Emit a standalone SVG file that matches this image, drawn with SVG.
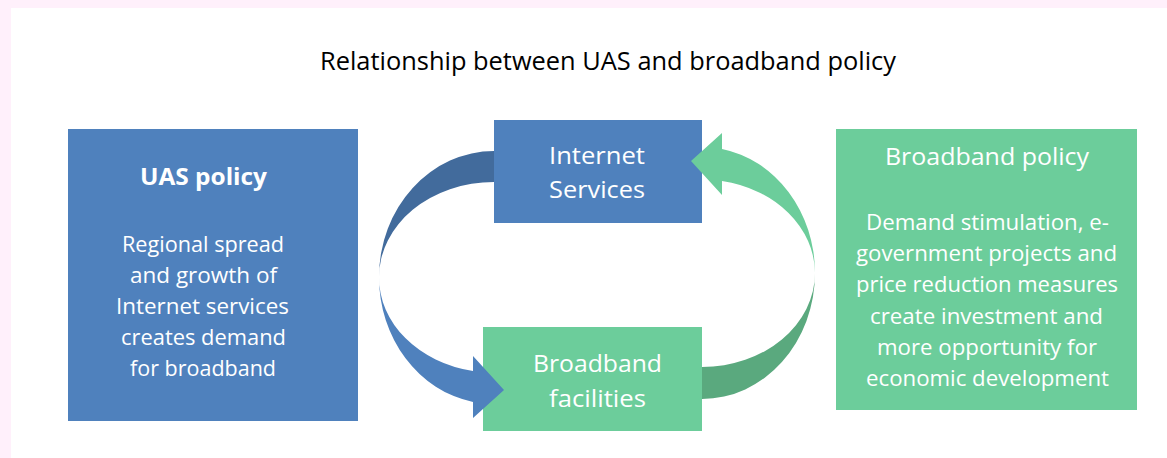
<svg xmlns="http://www.w3.org/2000/svg" width="1167" height="458" viewBox="0 0 1167 458">
<style>
.t{font-family:"Open Sans","Liberation Sans",sans-serif;fill:#ffffff;text-anchor:middle}
.title{font-family:"Open Sans","Liberation Sans",sans-serif;fill:#000000;text-anchor:middle;font-size:25px}
.blue{fill:#4f81bd}
.green{fill:#6ccd9b}
.body{font-size:22px}
.head{font-size:24px}
</style>
<rect x="0" y="0" width="1167" height="458" fill="#fff0fb"/>
<rect x="11" y="8" width="1156" height="450" fill="#ffffff"/>
<text class="title" x="608" y="70" textLength="576" lengthAdjust="spacingAndGlyphs">Relationship between UAS and broadband policy</text>

<g id="uas-policy">
<rect class="blue" x="68" y="129" width="290" height="292"/>
<text class="t head" x="203.5" y="185" font-weight="bold" textLength="127" lengthAdjust="spacingAndGlyphs">UAS policy</text>
<text class="t body" x="203" y="252" textLength="162" lengthAdjust="spacingAndGlyphs">Regional spread</text>
<text class="t body" x="203.5" y="283" textLength="147" lengthAdjust="spacingAndGlyphs">and growth of</text>
<text class="t body" x="202.5" y="314" textLength="173" lengthAdjust="spacingAndGlyphs">Internet services</text>
<text class="t body" x="203.5" y="345" textLength="165" lengthAdjust="spacingAndGlyphs">creates demand</text>
<text class="t body" x="203" y="376" textLength="146" lengthAdjust="spacingAndGlyphs">for broadband</text>
</g>

<g id="internet-services">
<rect class="blue" x="494" y="120" width="208" height="103"/>
<text class="t head" x="597" y="164" textLength="96" lengthAdjust="spacingAndGlyphs">Internet</text>
<text class="t head" x="597" y="198" textLength="96" lengthAdjust="spacingAndGlyphs">Services</text>
</g>

<g id="broadband-facilities">
<rect class="green" x="483" y="327" width="219" height="104"/>
<text class="t head" x="597.5" y="372" textLength="129" lengthAdjust="spacingAndGlyphs">Broadband</text>
<text class="t head" x="597.5" y="407" textLength="97" lengthAdjust="spacingAndGlyphs">facilities</text>
</g>

<g id="broadband-policy">
<rect class="green" x="836" y="129" width="301" height="281"/>
<text class="t head" x="987" y="165" textLength="204" lengthAdjust="spacingAndGlyphs">Broadband policy</text>
<text class="t body" x="987.5" y="230" textLength="243" lengthAdjust="spacingAndGlyphs">Demand stimulation, e-</text>
<text class="t body" x="986.5" y="261" textLength="261" lengthAdjust="spacingAndGlyphs">government projects and</text>
<text class="t body" x="987" y="292" textLength="262" lengthAdjust="spacingAndGlyphs">price reduction measures</text>
<text class="t body" x="986.5" y="324" textLength="233" lengthAdjust="spacingAndGlyphs">create investment and</text>
<text class="t body" x="987" y="355" textLength="220" lengthAdjust="spacingAndGlyphs">more opportunity for</text>
<text class="t body" x="987.5" y="386" textLength="243" lengthAdjust="spacingAndGlyphs">economic development</text>
</g>

<g id="connectors">
<path fill="#426b9c" d="M494,151 A115,126 0 0 0 379,277 A115,95 0 0 1 494,182 Z"/>
<path fill="#4f81bd" d="M379,277 A115,127 0 0 0 473,402 L473,418 L504,390 L473,356 L473,371 A115,95 0 0 1 379,277 Z"/>
<path fill="#5aa97e" d="M702,399 A113,126 0 0 0 815,273 A113,94 0 0 1 702,367 Z"/>
<path fill="#6ccd9b" d="M815,273 A113,126 0 0 0 722,149 L722,133 L691,161 L722,195 L722,181 A113,94 0 0 1 815,273 Z"/>
</g>
</svg>
